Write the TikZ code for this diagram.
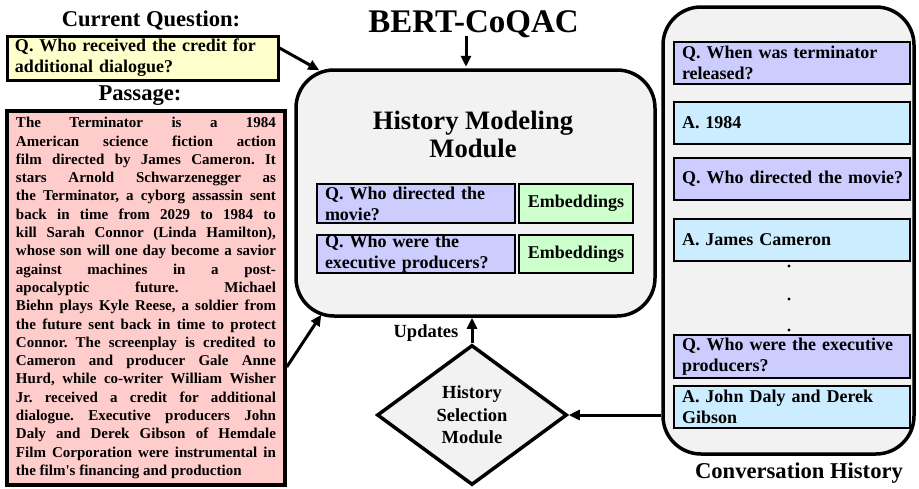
\documentclass[tikz,border=0pt]{standalone}
\usepackage{fontspec}
\setmainfont{Liberation Serif}
\usetikzlibrary{arrows.meta,shapes.geometric,calc}
\definecolor{yel}{HTML}{FFFFCC}
\definecolor{pnk}{HTML}{FFCCCC}
\definecolor{gry}{HTML}{F2F2F2}
\definecolor{prp}{HTML}{CCCCFF}
\definecolor{grn}{HTML}{CCFFCC}
\definecolor{cyn}{HTML}{CCECFF}
\newcommand\jline[1]{\hbox to 260pt{#1}}
\begin{document}
\begin{tikzpicture}[x=1pt,y=-1pt,
  boxfont/.style={font=\fontsize{18}{21}\selectfont\bfseries},
  titlefont/.style={font=\fontsize{22.6}{26}\selectfont\bfseries},
  qbox/.style={draw, line width=2pt, fill=prp, minimum width=198pt, text width=182pt, inner xsep=8pt, inner ysep=0pt, align=left, boxfont},
  ebox/.style={draw, line width=2pt, fill=grn, minimum width=114pt, inner sep=0pt, align=center, boxfont},
  cbox/.style={draw, line width=2.5pt, minimum width=236pt, text width=220pt, inner xsep=8pt, inner ysep=0pt, align=left, boxfont},
  container/.style={draw, line width=3.5pt, fill=gry, rounded corners=38pt},
  arr/.style={line width=3pt, -{Triangle[length=11pt,width=10pt]}},
  dot/.style={circle, fill, inner sep=0pt, minimum size=3.4pt}
]
\useasboundingbox (0,0) rectangle (919,488);

% left column
\node[titlefont, anchor=base] (cqt) at (151,26) {Current Question:};
\node[draw, line width=3pt, fill=yel, minimum width=271pt, minimum height=44pt, text width=255pt, inner xsep=8pt, inner ysep=0pt, align=left, boxfont] (cq) at (142.5,58) {Q. Who received the credit for\\additional dialogue?};
\node[titlefont, anchor=base] (pgt) at (140,100) {Passage:};
\node[draw, line width=3.5pt, fill=pnk, minimum width=278pt, minimum height=374pt, inner sep=0pt] (pg) at (146,298) {\vbox{\fontsize{15}{18.3}\selectfont\bfseries\frenchspacing
\jline{The Terminator is a 1984}
\jline{American science fiction action}
\jline{film directed by James Cameron. It}
\jline{stars Arnold Schwarzenegger as}
\jline{the Terminator, a cyborg assassin sent}
\jline{back in time from 2029 to 1984 to}
\jline{kill Sarah Connor (Linda Hamilton),}
\jline{whose son will one day become a savior}
\jline{against machines in a post-}
\jline{apocalyptic future. Michael}
\jline{Biehn plays Kyle Reese, a soldier from}
\jline{the future sent back in time to protect}
\jline{Connor. The screenplay is credited to}
\jline{Cameron and producer Gale Anne}
\jline{Hurd, while co-writer William Wisher}
\jline{Jr. received a credit for additional}
\jline{dialogue. Executive producers John}
\jline{Daly and Derek Gibson of Hemdale}
\jline{Film Corporation were instrumental in}
\hbox{the film\textquotesingle s financing and production}}};

% centre
\node[font=\fontsize{33}{36}\selectfont\bfseries, anchor=base] (bert) at (473.5,32) {BERT-CoQAC};
\node[container, minimum width=359pt, minimum height=246pt] (hmm) at (475.5,193) {};
\node[font=\fontsize{26.6}{28}\selectfont\bfseries, align=center] (hmmt) at (473,134) {History Modeling\\Module};
\node[qbox, minimum height=39pt] (q1) at (416,203.5) {Q. Who directed the\\movie?};
\node[ebox, minimum height=39pt] (e1) at (576,203.5) {Embeddings};
\node[qbox, minimum height=38pt] (q2) at (416,254) {Q. Who were the\\executive producers?};
\node[ebox, minimum height=38pt] (e2) at (576,254) {Embeddings};

\node[diamond, draw, line width=3.5pt, fill=gry, minimum width=190pt, minimum height=140pt, inner sep=0pt, align=center, font=\fontsize{18.5}{22.5}\selectfont\bfseries] (hsm) at (472,415) {History\\Selection\\Module};
\node[font=\fontsize{18.5}{20}\selectfont\bfseries, anchor=base] (upd) at (426,337) {Updates};

% right column
\node[container, minimum width=251pt, minimum height=447pt] (ch) at (788.5,230.5) {};
\node[cbox, fill=prp, minimum height=42pt] (c1) at (792,63) {Q. When was terminator\\released?};
\node[cbox, fill=cyn, minimum height=42pt] (c2) at (792,123) {A. 1984};
\node[cbox, fill=prp, minimum height=42pt] (c3) at (792,179) {\mbox{Q. Who directed the movie?}};
\node[cbox, fill=cyn, minimum height=42pt] (c4) at (792,240) {A. James Cameron};
\node[dot] (d1) at (789,266) {};
\node[dot] (d2) at (789,299) {};
\node[dot] (d3) at (789,330) {};
\node[cbox, fill=prp, minimum height=43pt] (c5) at (792,356.5) {Q. Who were the executive\\producers?};
\node[cbox, fill=cyn, minimum height=42pt] (c6) at (792,407) {A. John Daly and Derek\\Gibson};
\node[titlefont, anchor=base] (chl) at (799,478) {Conversation History};

% connectors
\draw[arr] ($(cq.east)+(0,-10)$) -- ($(hmm.north west)+(25,2)$);
\draw[arr] ($(pg.east)+(0,69)$) -- ($(hmm.south west)+(27,-3)$);
\draw[arr] ($(bert.base)+(-7.5,4)$) -- ($(hmm.north)+(-9.5,-1.5)$);
\draw[arr] (hsm.north) -- (hsm.north |- hmm.south);
\draw[arr] (ch.west |- hsm.east) -- (hsm.east);
\end{tikzpicture}
\end{document}
